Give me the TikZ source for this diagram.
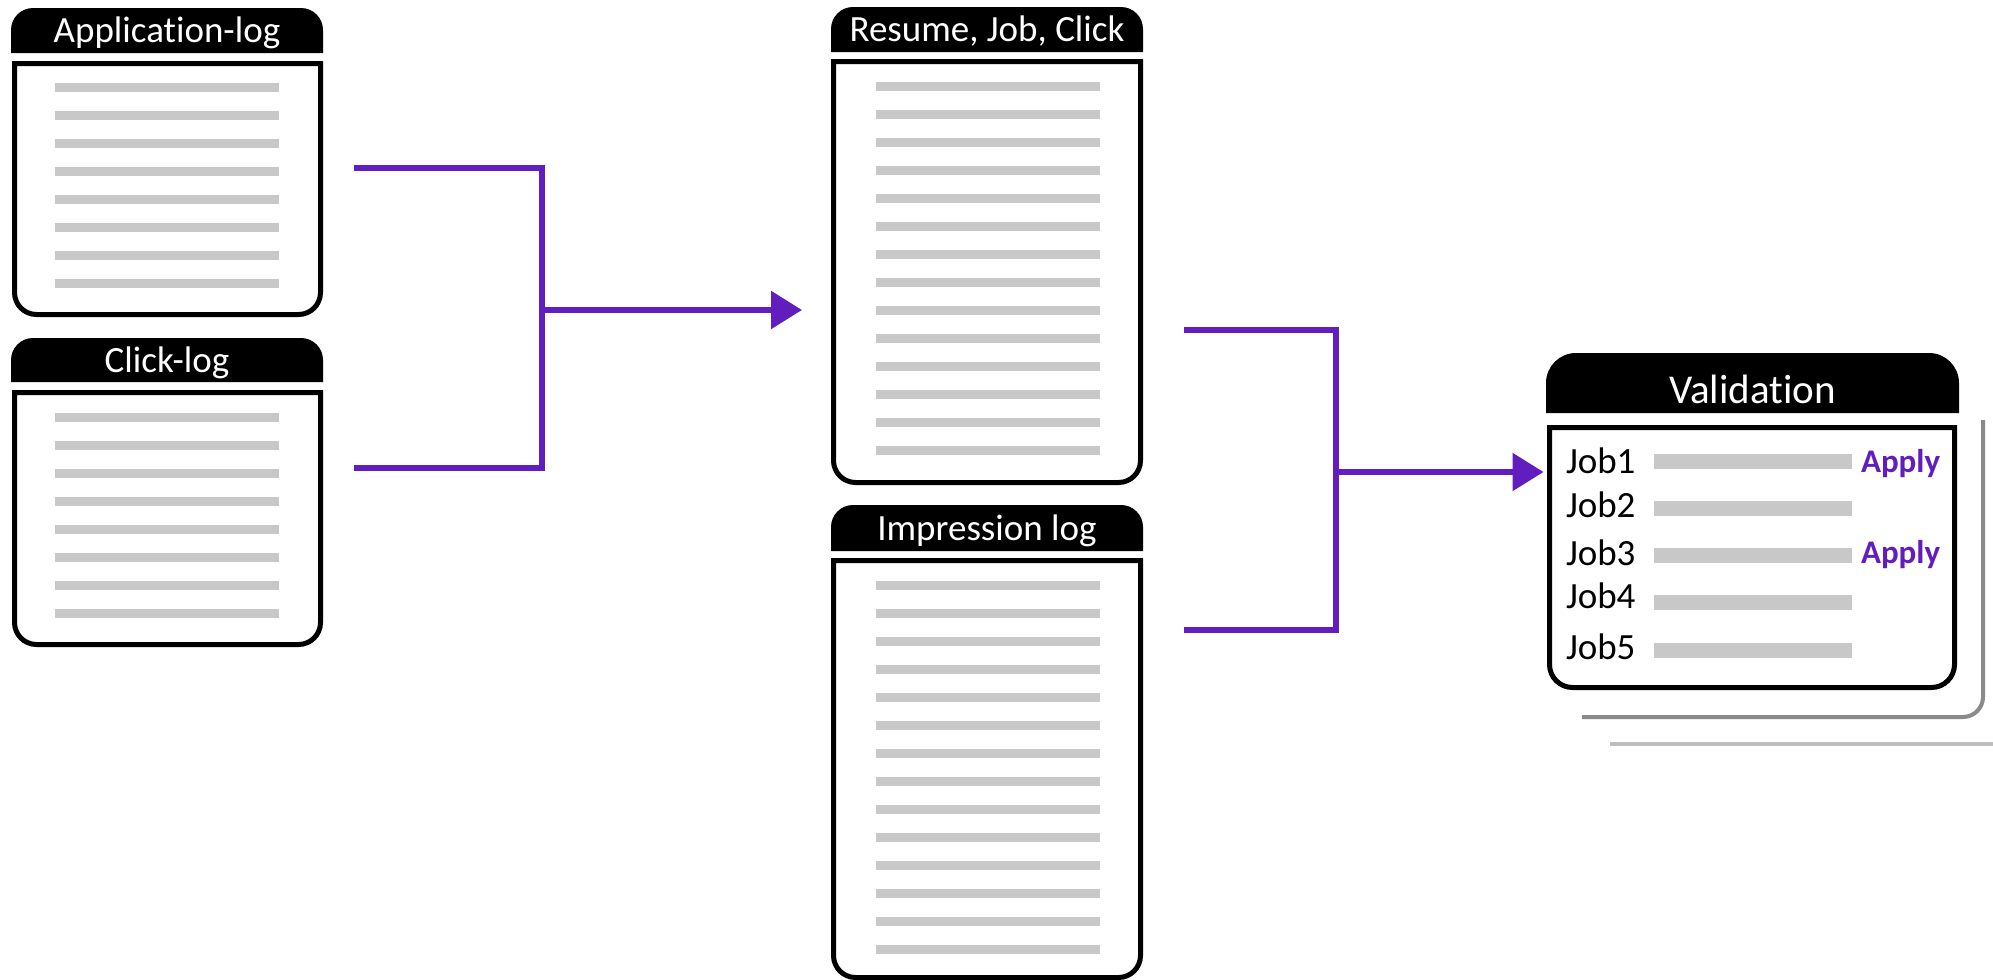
\documentclass[tikz,border=0pt]{standalone}
\usepackage{fontspec}
\setmainfont{Carlito}[Ligatures=NoCommon]
\usetikzlibrary{arrows.meta}
\pgfdeclarelayer{background}
\pgfsetlayers{background,main}
\definecolor{vpurple}{RGB}{97,29,189}
\definecolor{lgray}{RGB}{200,200,200}
\definecolor{sgray}{RGB}{138,138,138}
\definecolor{sgray2}{RGB}{190,190,190}
\newcommand{\hdrshape}[2]{%
  \begin{pgfonlayer}{background}
  \fill[black] (#1.south west) -- ([yshift=-#2]#1.north west) arc[start angle=180,end angle=90,radius=#2]
    -- ([xshift=-#2]#1.north east) arc[start angle=90,end angle=0,radius=#2] -- (#1.south east) -- cycle;
  \end{pgfonlayer}}
\newcommand{\bodyshape}[2]{%
  \draw[line width=2.5pt] (#1.north west) -- (#1.north east) -- ([yshift=#2]#1.south east)
    arc[start angle=0,end angle=-90,radius=#2] -- ([xshift=#2]#1.south west)
    arc[start angle=270,end angle=180,radius=#2] -- cycle;}
\tikzset{
  hdr/.style={inner sep=0pt, outer sep=0pt, text=white, font=\fontsize{18.5}{22}\selectfont, text height=12pt, text depth=0pt},
  bodyb/.style={inner sep=0pt, outer sep=0pt},
  conn/.style={draw=vpurple, line width=2.8pt, line join=miter},
  arr/.style={conn, -{Triangle[length=15.5pt,width=18.5pt]}},
  grayln/.style={draw=lgray, line width=4.5pt},
  bar/.style={draw=lgray, line width=7.5pt},
  joblbl/.style={inner sep=0pt, outer sep=0pt, anchor=base west, font=\fontsize{18.5}{22}\selectfont},
  applbl/.style={inner sep=0pt, outer sep=0pt, anchor=base west, text=vpurple, font=\fontsize{16.5}{20}\selectfont\bfseries},
}
\begin{document}
\begin{tikzpicture}[x=0.5pt,y=-0.5pt]
\useasboundingbox (0,0) rectangle (1993,980);

% Application-log
\node[hdr, minimum width=156pt, minimum height=22.5pt] (apph) at (167,30.5) {Application-log};
\hdrshape{apph}{11pt}
\node[bodyb, minimum width=153pt, minimum height=125.5pt] (appb) at (167.5,189) {};
\bodyshape{appb}{11pt}
\foreach \k in {0,...,7} \draw[grayln] (55,{87+28*\k}) -- (279,{87+28*\k});

% Click-log
\node[hdr, minimum width=156pt, minimum height=22pt] (clkh) at (167,360) {Click-log};
\hdrshape{clkh}{11pt}
\node[bodyb, minimum width=153pt, minimum height=126pt] (clkb) at (167.5,518.5) {};
\bodyshape{clkb}{11pt}
\foreach \k in {0,...,7} \draw[grayln] (55,{417+28*\k}) -- (279,{417+28*\k});

% Resume, Job, Click
\node[hdr, minimum width=156pt, minimum height=22.5pt] (rjch) at (987,29.5) {Resume, Job, Click};
\hdrshape{rjch}{11pt}
\node[bodyb, minimum width=153.5pt, minimum height=210.5pt] (rjcb) at (987,272) {};
\bodyshape{rjcb}{11pt}
\foreach \k in {0,...,13} \draw[grayln] (876,{86+28*\k}) -- (1100,{86+28*\k});

% Impression log
\node[hdr, minimum width=156pt, minimum height=23pt] (imph) at (987,528) {Impression log};
\hdrshape{imph}{11pt}
\node[bodyb, minimum width=153.5pt, minimum height=208.5pt] (impb) at (987,769) {};
\bodyshape{impb}{11pt}
\foreach \k in {0,...,13} \draw[grayln] (876,{585+28*\k}) -- (1100,{585+28*\k});

% Validation
\draw[sgray, line width=2pt, rounded corners=10pt] (1983,420) -- (1983,717) -- (1582,717);
\draw[sgray2, line width=2pt] (1610,744) -- (1993,744);
\node[hdr, minimum width=206.5pt, minimum height=30pt, text height=20pt, font=\fontsize{20.5}{24}\selectfont] (valh) at (1752.5,383) {Validation};
\hdrshape{valh}{15pt}
\node[bodyb, minimum width=202.5pt, minimum height=130pt] (valb) at (1752,557.5) {};
\bodyshape{valb}{11.5pt}
\foreach \y in {461,508,555,602,650} \draw[bar] (1654,\y) -- (1852,\y);
\node[joblbl] (j1) at (1566,473) {Job1};
\node[joblbl] (j2) at (1566,517) {Job2};
\node[joblbl] (j3) at (1566,565) {Job3};
\node[joblbl] (j4) at (1566,608) {Job4};
\node[joblbl] (j5) at (1566,659) {Job5};
\node[applbl] (ap1) at (1861,472) {Apply};
\node[applbl] (ap3) at (1861,563) {Apply};

% Connector 1
\coordinate (c1a) at (354,168);
\coordinate (c1b) at (354,468);
\coordinate (c1t) at (542,168);
\coordinate (c1u) at (542,468);
\coordinate (c1m) at (542,310);
\coordinate (c1e) at (802,310);
\draw[conn] (c1a) -- (c1t) -- (c1u) -- (c1b);
\draw[arr] (c1m) -- (c1e);

% Connector 2
\coordinate (c2a) at (1184,330);
\coordinate (c2b) at (1184,630);
\coordinate (c2t) at (1336,330);
\coordinate (c2u) at (1336,630);
\coordinate (c2m) at (1336,472);
\coordinate (c2e) at ([xshift=-3pt]valb.west |- c2m);
\draw[conn] (c2a) -- (c2t) -- (c2u) -- (c2b);
\draw[arr] (c2m) -- (c2e);
\end{tikzpicture}
\end{document}
